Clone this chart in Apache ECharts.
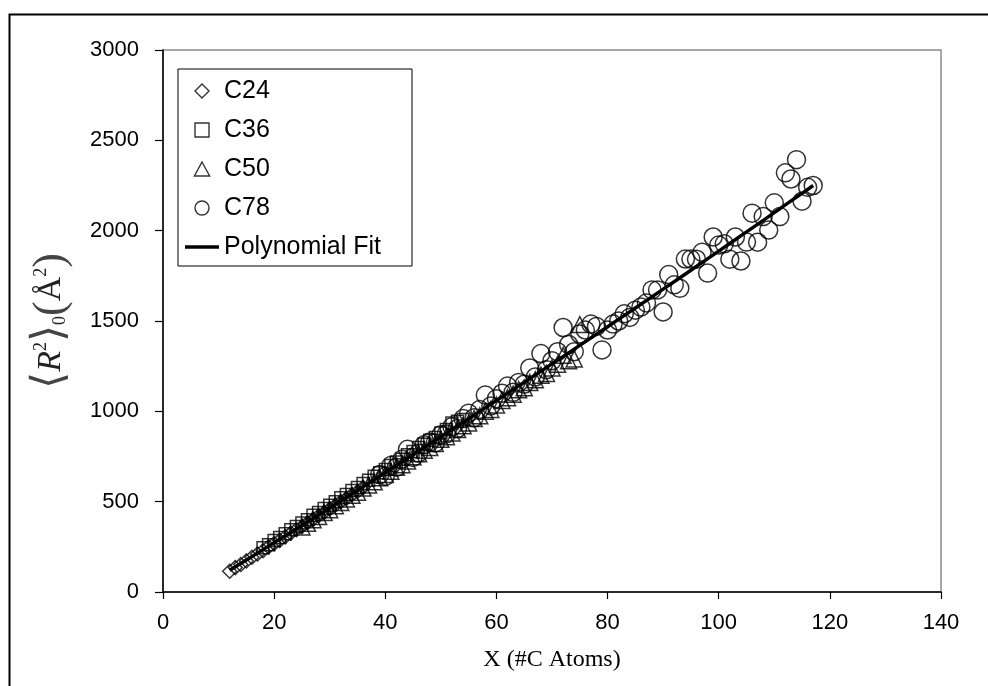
<!DOCTYPE html>
<html>
<head>
<meta charset="utf-8">
<script src="https://cdn.jsdelivr.net/npm/echarts@6/dist/echarts.min.js"></script>
<style>html,body{margin:0;padding:0;background:#fff}#c{width:988px;height:686px}</style>
</head>
<body>
<div id="c"></div>
<script>
const seriesNames = ['C24', 'C36', 'C50', 'C78', 'Polynomial Fit'];
const xTicks = [0, 20, 40, 60, 80, 100, 120, 140];
const yTicks = [0, 500, 1000, 1500, 2000, 2500, 3000];

const c24 = [[12,115],[13,135],[14,152],[15,172],[16,192],[17,210],[18,228],[19,250],[20,268],[21,286],[22,306],[23,326],[24,345],[25,362],[26,383],[27,402],[28,422],[29,440],[30,460],[31,480],[32,500],[33,518],[34,538],[35,556],[36,578]];

const c36 = [[18,245],[19,262],[20,285],[21,302],[22,322],[23,345],[24,362],[25,382],[26,400],[27,425],[28,440],[29,462],[30,480],[31,500],[32,522],[33,540],[34,562],[35,578],[36,600],[37,618],[38,640],[39,660],[40,678],[41,700],[42,720],[43,735],[44,760],[45,778],[46,800],[47,818],[48,840],[49,855],[50,880],[51,900],[52,935],[53,945],[54,955]];

const c50 = [[25,360],[26,380],[27,400],[28,418],[29,440],[30,455],[31,478],[32,495],[33,515],[34,535],[35,552],[36,575],[37,592],[38,610],[39,632],[40,650],[41,668],[42,690],[43,705],[44,725],[45,748],[46,765],[47,785],[48,800],[49,822],[50,845],[51,860],[52,880],[53,900],[54,920],[55,935],[56,960],[57,975],[58,1000],[59,1010],[60,1035],[61,1060],[62,1075],[63,1095],[64,1120],[65,1130],[66,1160],[67,1175],[68,1200],[69,1210],[70,1240],[71,1260],[72,1310],[73,1280],[74,1290],[75,1480]];

const c78 = [[39,650],[40,640],[41,700],[42,690],[43,735],[44,790],[45,745],[46,770],[47,815],[48,830],[49,825],[50,870],[51,875],[52,915],[53,905],[54,960],[55,990],[56,965],[57,1010],[58,1090],[59,1030],[60,1070],[61,1100],[62,1140],[63,1105],[64,1160],[65,1150],[66,1240],[67,1190],[68,1320],[69,1230],[70,1280],[71,1330],[72,1464],[73,1370],[74,1330],[75,1428],[76,1450],[77,1483],[78,1470],[79,1340],[80,1450],[81,1483],[82,1500],[83,1540],[84,1520],[85,1560],[86,1577],[87,1600],[88,1672],[89,1672],[90,1550],[91,1757],[92,1700],[93,1681],[94,1843],[95,1843],[96,1842],[97,1880],[98,1765],[99,1965],[100,1920],[101,1927],[102,1842],[103,1965],[104,1832],[105,1937],[106,2097],[107,1936],[108,2078],[109,2003],[110,2154],[111,2078],[112,2320],[113,2286],[114,2393],[115,2163],[116,2240],[117,2250]];

const fitLine = [[12,120],[15,177],[20,273],[25,369],[30,466],[35,563],[40,661],[45,760],[50,859],[55,959],[60,1060],[65,1161],[70,1263],[75,1365],[80,1468],[85,1572],[90,1676],[95,1781],[100,1887],[105,1993],[110,2100],[115,2207],[117,2250]];

const chart = echarts.init(document.getElementById('c'), null, {renderer: 'canvas'});
const hollow = {color: 'rgba(0,0,0,0)', borderColor: '#000', borderWidth: 1.5};
const legendHollow = {color: 'rgba(0,0,0,0)', borderColor: '#000', borderWidth: 1.4};
const tickFont = {fontFamily: 'Liberation Sans, Arial', fontSize: 22, color: '#000', formatter: v => String(v)};

chart.setOption({
  animation: false,
  backgroundColor: '#fff',
  graphic: [{
    type: 'rect', left: 7, top: 12, z: -1,
    shape: {width: 1000, height: 700},
    style: {fill: 'none', stroke: '#000', lineWidth: 2}
  }],
  grid: {left: 163, top: 50, right: 47, bottom: 94, show: true, borderColor: '#8c8c8c', borderWidth: 1.5, backgroundColor: 'transparent'},
  xAxis: {
    type: 'value', min: xTicks[0], max: xTicks[xTicks.length - 1], interval: 20,
    name: 'X (#C Atoms)', nameLocation: 'middle', nameGap: 56,
    nameTextStyle: {fontFamily: 'Liberation Serif, Times New Roman', fontSize: 24, color: '#000'},
    axisLine: {show: true, onZero: false, lineStyle: {color: '#000', width: 1.5}},
    axisTick: {show: true, inside: false, length: 7, lineStyle: {color: '#000', width: 1.2}},
    axisLabel: Object.assign({margin: 20}, tickFont),
    splitLine: {show: false}
  },
  yAxis: {
    type: 'value', min: yTicks[0], max: yTicks[yTicks.length - 1], interval: 500,
    name: '{b|⟨}{r|R}{sup|2}{b|⟩}{sub|0}{p|(}{a|Å}{sup|2}{p|)}',
    nameLocation: 'middle', nameRotate: 90, nameGap: 84,
    nameTextStyle: {
      color: '#000',
      rich: {
        b: {fontFamily: 'DejaVu Serif', fontSize: 44, color: '#444', lineHeight: 56},
        r: {fontFamily: 'Liberation Serif', fontStyle: 'italic', fontSize: 34, color: '#222', lineHeight: 56},
        a: {fontFamily: 'Liberation Serif', fontSize: 34, color: '#222', lineHeight: 56},
        p: {fontFamily: 'Liberation Serif', fontSize: 44, color: '#444', lineHeight: 56},
        sup: {fontFamily: 'Liberation Serif', fontSize: 18, color: '#222', padding: [0, 0, 20, 0]},
        sub: {fontFamily: 'Liberation Serif', fontSize: 18, color: '#222', padding: [18, 0, 0, 0]}
      }
    },
    axisLine: {show: true, onZero: false, lineStyle: {color: '#000', width: 1.5}},
    axisTick: {show: true, inside: false, length: 8, lineStyle: {color: '#000', width: 1.2}},
    axisLabel: Object.assign({margin: 24}, tickFont),
    splitLine: {show: false}
  },
  legend: {
    orient: 'vertical', left: 178, top: 69,
    padding: [9, 8, 6, 7], itemGap: 13, itemWidth: 34, itemHeight: 14,
    symbolKeepAspect: true,
    borderColor: '#000', borderWidth: 1, backgroundColor: '#fff',
    textStyle: {fontFamily: 'Liberation Sans, Arial', fontSize: 25, color: '#000', lineHeight: 26, width: 180},
    data: [
      {name: seriesNames[0], icon: 'path://M6,0L12,6L6,12L0,6Z', itemStyle: legendHollow},
      {name: seriesNames[1], icon: 'path://M0,0H10V10H0Z', itemStyle: legendHollow},
      {name: seriesNames[2], icon: 'path://M6,0L12,11H0Z', itemStyle: legendHollow},
      {name: seriesNames[3], icon: 'circle', itemStyle: legendHollow},
      {name: seriesNames[4], icon: 'path://M0,0H34V3.4H0Z', itemStyle: {color: '#000', borderWidth: 0}}
    ]
  },
  series: [
    {name: seriesNames[0], type: 'scatter', symbol: 'diamond', symbolSize: 14, itemStyle: hollow, data: c24},
    {name: seriesNames[1], type: 'scatter', symbol: 'rect', symbolSize: 12, itemStyle: hollow, data: c36},
    {name: seriesNames[2], type: 'scatter', symbol: 'triangle', symbolSize: 16, itemStyle: hollow, data: c50},
    {name: seriesNames[3], type: 'scatter', symbol: 'circle', symbolSize: 18, itemStyle: hollow, data: c78},
    {name: seriesNames[4], type: 'line', symbol: 'none', smooth: true, z: 5, lineStyle: {color: '#000', width: 3.4}, itemStyle: {color: '#000'}, data: fitLine}
  ]
});
</script>
</body>
</html>
